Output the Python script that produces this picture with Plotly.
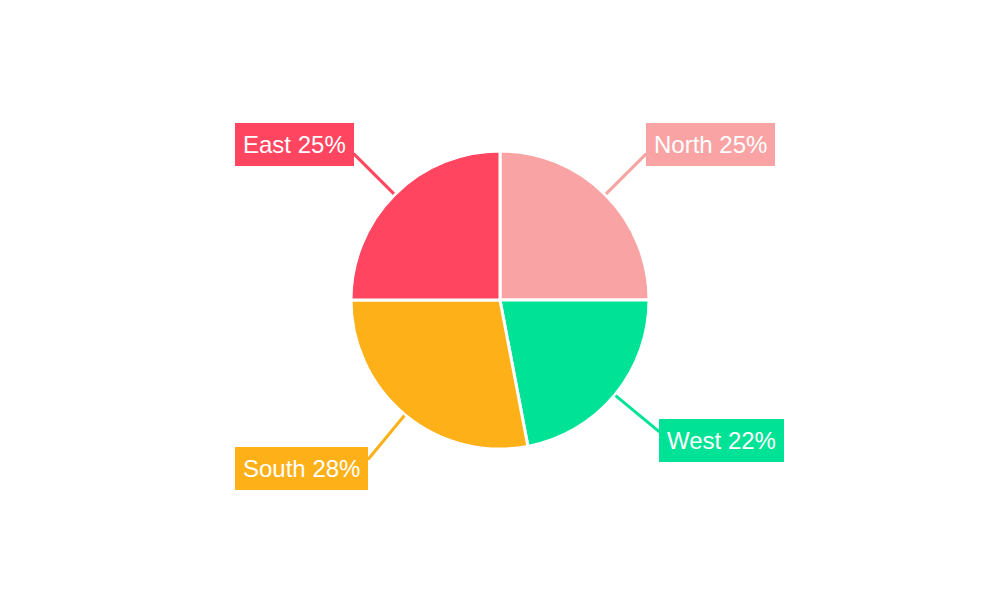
import math
import plotly.graph_objects as go

labels = ["North", "West", "South", "East"]
values = [25, 22, 28, 25]
colors = ["#F9A3A4", "#00E396", "#FEB019", "#FF4560"]

W, H = 1000, 600
cx, cy = 500, 300
R = 149
R_line_start = 150
R_line_end = 207

fig = go.Figure(go.Pie(
    labels=labels,
    values=values,
    sort=False,
    direction="clockwise",
    rotation=0,
    textinfo="none",
    hoverinfo="label+percent",
    marker=dict(colors=colors, line=dict(color="white", width=3)),
    domain=dict(x=[0, 1], y=[(H / 2 - R) / H, (H / 2 + R) / H]),
    showlegend=False,
))

total = sum(values)
cum = 0
shapes = []
annotations = []
for lab, v, c in zip(labels, values, colors):
    mid = (cum + v / 2) / total * 2 * math.pi
    cum += v
    dx, dy = math.sin(mid), -math.cos(mid)
    x0, y0 = cx + dx * R_line_start, cy + dy * R_line_start
    x1, y1 = cx + dx * R_line_end, cy + dy * R_line_end
    shapes.append(dict(type="line", xref="paper", yref="paper",
                       x0=x0 / W, y0=1 - y0 / H, x1=x1 / W, y1=1 - y1 / H,
                       line=dict(color=c, width=3)))
    pct = round(v / total * 100)
    annotations.append(dict(
        xref="paper", yref="paper", x=x1 / W, y=1 - y1 / H,
        xanchor="left" if dx > 0 else "right", yanchor="middle",
        yshift=9 if dy < 0 else -9,
        text=f"{lab} {pct}%", showarrow=False,
        font=dict(family="Liberation Sans, Arial, sans-serif", size=24, color="white"),
        bgcolor=c, borderpad=8, borderwidth=0,
    ))

fig.update_layout(
    width=W, height=H,
    margin=dict(l=0, r=0, t=0, b=0),
    paper_bgcolor="white", plot_bgcolor="white",
    shapes=shapes, annotations=annotations,
)
fig.write_html("out.html", config={"displayModeBar": False},
               post_script="document.body.style.margin='0px';")
